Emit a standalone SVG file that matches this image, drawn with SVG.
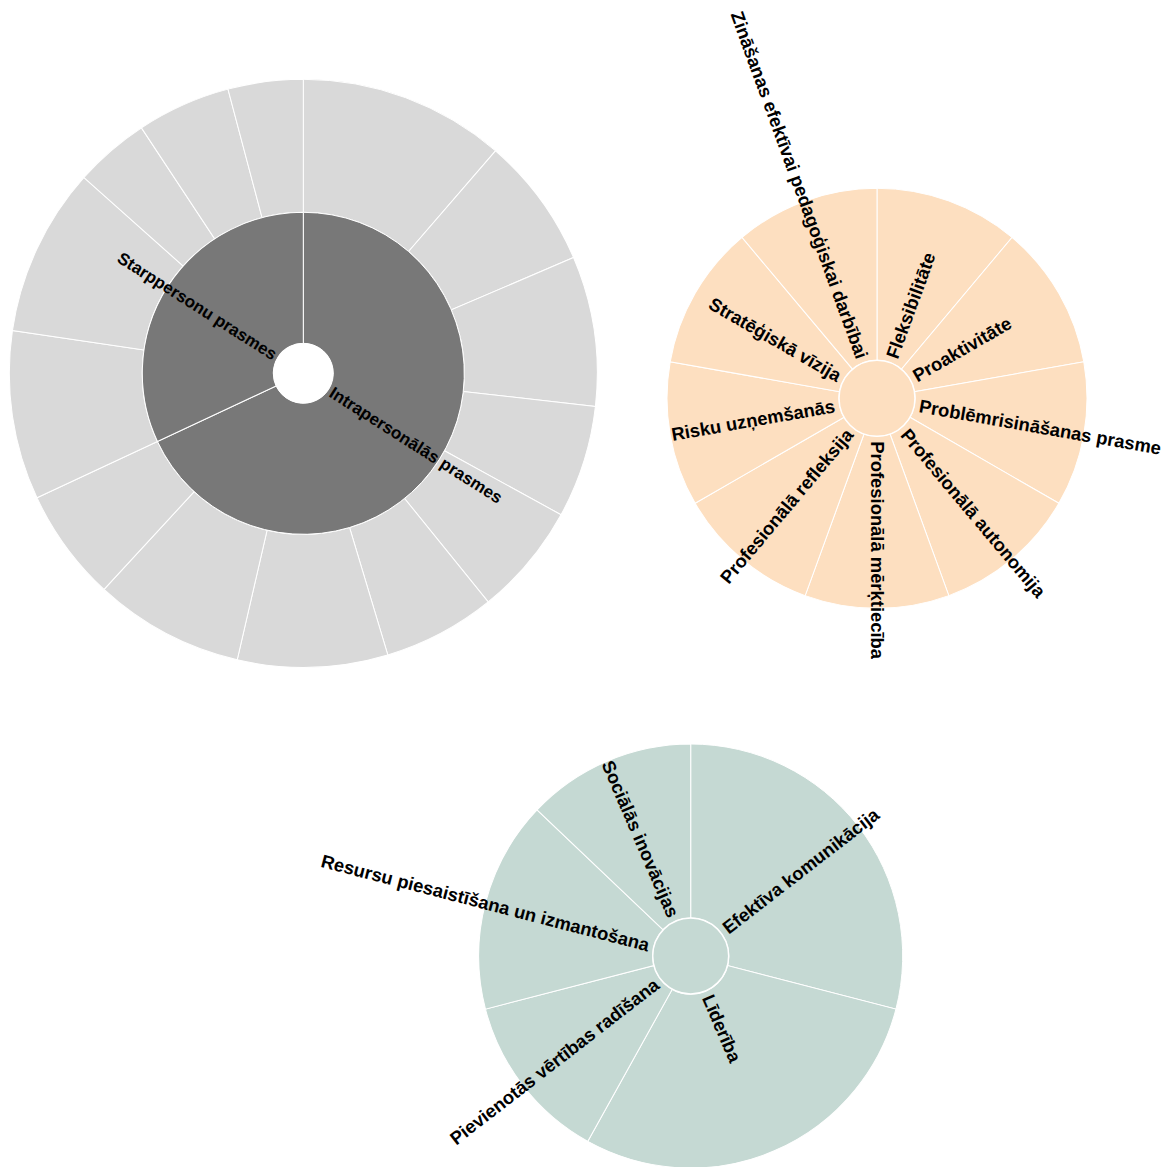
<svg xmlns="http://www.w3.org/2000/svg" width="1164" height="1167" viewBox="0 0 1164 1167">
<style>
.seg{stroke:#fff;stroke-width:1}
.l1{fill:#787878}
.l2{fill:#d9d9d9}
.or{fill:#fddfc0}
.gr{fill:#c5d9d3}
.lbl{font-family:"Liberation Sans",Arial,Helvetica,sans-serif;font-weight:bold;fill:#000}
.s17{font-size:17px}
.s18{font-size:18.4px}
</style>
<rect width="1164" height="1167" fill="#fff"/>

<!-- Chart 1 -->
<g id="chart1" transform="translate(303.3,373.3)">
  <g id="c1-outer">
    <path id="i1" class="seg l2" transform="rotate(0)" d="M0,-294A294,294 0 0 1 192.202,-222.474L105.253,-121.831A161,161 0 0 0 0,-161Z"/>
    <path id="i2" class="seg l2" transform="rotate(40.82474)" d="M0,-294A294,294 0 0 1 128.786,-264.292L70.526,-144.731A161,161 0 0 0 0,-161Z"/>
    <path id="i3" class="seg l2" transform="rotate(66.80412)" d="M0,-294A294,294 0 0 1 145.623,-255.401L79.746,-139.862A161,161 0 0 0 0,-161Z"/>
    <path id="i4" class="seg l2" transform="rotate(96.49485)" d="M0,-294A294,294 0 0 1 111.408,-272.074L61.009,-148.993A161,161 0 0 0 0,-161Z"/>
    <path id="i5" class="seg l2" transform="rotate(118.76289)" d="M0,-294A294,294 0 0 1 111.408,-272.074L61.009,-148.993A161,161 0 0 0 0,-161Z"/>
    <path id="i6" class="seg l2" transform="rotate(141.03093)" d="M0,-294A294,294 0 0 1 111.408,-272.074L61.009,-148.993A161,161 0 0 0 0,-161Z"/>
    <path id="i7" class="seg l2" transform="rotate(163.29897)" d="M0,-294A294,294 0 0 1 145.623,-255.401L79.746,-139.862A161,161 0 0 0 0,-161Z"/>
    <path id="i8" class="seg l2" transform="rotate(192.98969)" d="M0,-294A294,294 0 0 1 145.623,-255.401L79.746,-139.862A161,161 0 0 0 0,-161Z"/>
    <path id="i9" class="seg l2" transform="rotate(222.68041)" d="M0,-294A294,294 0 0 1 111.408,-272.074L61.009,-148.993A161,161 0 0 0 0,-161Z"/>
    <path id="s1" class="seg l2" transform="rotate(244.94845)" d="M0,-294A294,294 0 0 1 161.851,-245.439L88.632,-134.407A161,161 0 0 0 0,-161Z"/>
    <path id="s2" class="seg l2" transform="rotate(278.35052)" d="M0,-294A294,294 0 0 1 161.851,-245.439L88.632,-134.407A161,161 0 0 0 0,-161Z"/>
    <path id="s3" class="seg l2" transform="rotate(311.75258)" d="M0,-294A294,294 0 0 1 75.326,-284.187L41.250,-155.626A161,161 0 0 0 0,-161Z"/>
    <path id="s4" class="seg l2" transform="rotate(326.59794)" d="M0,-294A294,294 0 0 1 93.563,-278.715L51.237,-152.630A161,161 0 0 0 0,-161Z"/>
    <path id="s5" class="seg l2" transform="rotate(345.15464)" d="M0,-294A294,294 0 0 1 75.326,-284.187L41.250,-155.626A161,161 0 0 0 0,-161Z"/>
  </g>
  <g id="intrapersonalas">
    <path class="seg l1" d="M0,-161A161,161 0 1 1 -145.854,68.174L-27.178,12.703A30,30 0 1 0 0,-30Z"/>
    <text class="lbl s17" transform="rotate(32.4742) translate(33,0)" dy="0.35em" text-anchor="start">Intrapersonālās prasmes</text>
  </g>
  <g id="starppersonu">
    <path class="seg l1" transform="rotate(244.94845)" d="M0,-161A161,161 0 0 1 145.854,68.174L27.178,12.703A30,30 0 0 0 0,-30Z"/>
    <text class="lbl s17" transform="rotate(212.4742) translate(33,0) rotate(180)" dy="0.35em" text-anchor="end">Starppersonu prasmes</text>
  </g>
  <circle id="c1-root" r="30" fill="#fff"/>
</g>

<!-- Chart 2 -->
<g id="chart2" transform="translate(877,398.3)">
  <defs>
    <path id="sec40" d="M0,-210A210,210 0 0 1 134.985,-160.869L24.426,-29.110A38,38 0 0 0 0,-38Z"/>
  </defs>
  <g id="fleksibilitate"><use href="#sec40" class="seg or" transform="rotate(0)"/>
    <text class="lbl s18" transform="rotate(-70) translate(43,0)" dy="0.35em">Fleksibilitāte</text></g>
  <g id="proaktivitate"><use href="#sec40" class="seg or" transform="rotate(40)"/>
    <text class="lbl s18" transform="rotate(-30) translate(43,0)" dy="0.35em">Proaktivitāte</text></g>
  <g id="problemrisinasana"><use href="#sec40" class="seg or" transform="rotate(80)"/>
    <text class="lbl s18" transform="rotate(10) translate(43,0)" dy="0.35em">Problēmrisināšanas prasme</text></g>
  <g id="autonomija"><use href="#sec40" class="seg or" transform="rotate(120)"/>
    <text class="lbl s18" transform="rotate(50) translate(43,0)" dy="0.35em">Profesionālā autonomija</text></g>
  <g id="merktieciba"><use href="#sec40" class="seg or" transform="rotate(160)"/>
    <text class="lbl s18" transform="rotate(90) translate(43,0)" dy="0.35em">Profesionālā mērķtiecība</text></g>
  <g id="refleksija"><use href="#sec40" class="seg or" transform="rotate(200)"/>
    <text class="lbl s18" transform="rotate(130) translate(43,0) rotate(180)" dy="0.35em" text-anchor="end">Profesionālā refleksija</text></g>
  <g id="risku"><use href="#sec40" class="seg or" transform="rotate(240)"/>
    <text class="lbl s18" transform="rotate(170) translate(43,0) rotate(180)" dy="0.35em" text-anchor="end">Risku uzņemšanās</text></g>
  <g id="strategiska"><use href="#sec40" class="seg or" transform="rotate(280)"/>
    <text class="lbl s18" transform="rotate(210) translate(43,0) rotate(180)" dy="0.35em" text-anchor="end">Stratēģiskā vīzija</text></g>
  <g id="zinasanas"><use href="#sec40" class="seg or" transform="rotate(320)"/>
    <text class="lbl s18" transform="rotate(250) translate(43,0) rotate(180)" dy="0.35em" text-anchor="end">Zināšanas efektīvai pedagoģiskai darbībai</text></g>
  <circle id="c2-root" r="38" class="or" stroke="#fff" stroke-width="1.5"/>
</g>

<!-- Chart 3 -->
<g id="chart3" transform="translate(690.7,956)">
  <g id="efektiva">
    <path class="seg gr" transform="rotate(0)" d="M0,-212A212,212 0 0 1 205.233,53.138L36.787,9.525A38,38 0 0 0 0,-38Z"/>
    <text class="lbl s18" transform="rotate(-37.7419) translate(43,0)" dy="0.35em">Efektīva komunikācija</text>
  </g>
  <g id="lideriba">
    <path class="seg gr" transform="rotate(104.51613)" d="M0,-212A212,212 0 0 1 205.233,53.138L36.787,9.525A38,38 0 0 0 0,-38Z"/>
    <text class="lbl s18" transform="rotate(66.7742) translate(43,0)" dy="0.35em">Līderība</text>
  </g>
  <g id="pievienotas">
    <path class="seg gr" transform="rotate(209.03226)" d="M0,-212A212,212 0 0 1 153.656,-146.061L27.542,-26.181A38,38 0 0 0 0,-38Z"/>
    <text class="lbl s18" transform="rotate(142.2581) translate(43,0) rotate(180)" dy="0.35em" text-anchor="end">Pievienotās vērtības radīšana</text>
  </g>
  <g id="resursu">
    <path class="seg gr" transform="rotate(255.48387)" d="M0,-212A212,212 0 0 1 179.913,-112.140L32.249,-20.101A38,38 0 0 0 0,-38Z"/>
    <text class="lbl s18" transform="rotate(194.5161) translate(43,0) rotate(180)" dy="0.35em" text-anchor="end">Resursu piesaistīšana un izmantošana</text>
  </g>
  <g id="socialas">
    <path class="seg gr" transform="rotate(313.54839)" d="M0,-212A212,212 0 0 1 153.656,-146.061L27.542,-26.181A38,38 0 0 0 0,-38Z"/>
    <text class="lbl s18" transform="rotate(246.7742) translate(43,0) rotate(180)" dy="0.35em" text-anchor="end">Sociālās inovācijas</text>
  </g>
  <circle id="c3-root" r="38" class="gr" stroke="#fff" stroke-width="1.5"/>
</g>
</svg>
